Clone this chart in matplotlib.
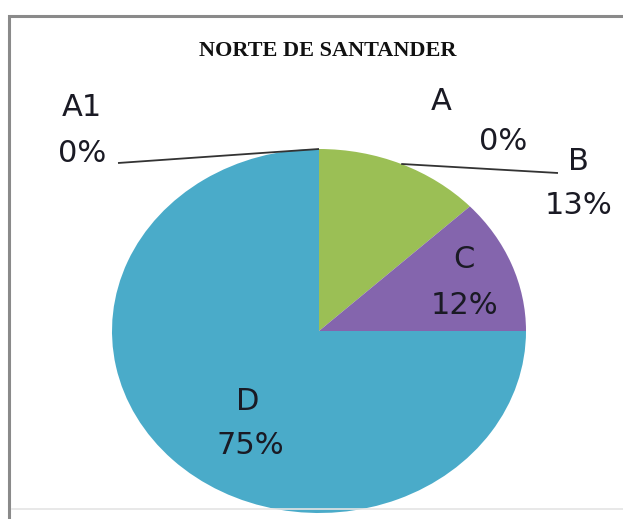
import matplotlib
matplotlib.use("Agg")
import matplotlib.pyplot as plt
import numpy as np
from matplotlib.patches import Rectangle
from matplotlib.lines import Line2D

# ---------- data ----------
categories = ["A1", "A", "B", "C", "D"]
values = [0, 0, 13, 12, 75]
colors = ["#4F81BD", "#C0504D", "#9bbf55", "#8465ad", "#4aabc9"]
title = "NORTE DE SANTANDER"

W, H = 623, 519
CX, CY, RX, RY = 319, 331, 207, 182   # pie centre / radii in pixels (image is stretched)


def px(x, y):
    """pixel (from top-left) -> data coords of the full-figure axes"""
    return (x - CX) / RX, (CY - y) / RY


fig = plt.figure(figsize=(W / 100, H / 100), dpi=100)
ax = fig.add_axes([0, 0, 1, 1])
ax.pie(values, colors=colors, startangle=90, counterclock=False,
       radius=1, wedgeprops=dict(linewidth=0))
ax.set_aspect("auto")
ax.set_xlim(-CX / RX, (W - CX) / RX)
ax.set_ylim(-(H - CY) / RY, CY / RY)
ax.axis("off")

# frame
fig.add_artist(Rectangle((9 / W, -0.1), 1.2, (H - 15.5) / H + 0.1, transform=fig.transFigure,
                         fill=False, edgecolor="#8a8a8a", lw=2.2))
fig.add_artist(Line2D([12 / W, 1], [1 - 509 / H] * 2, transform=fig.transFigure,
                      color="#e4e4e4", lw=1.2))

ax.text(*px(328, 51), title, ha="center", va="center", fontsize=16,
        family="Liberation Serif", weight="bold", color="#111111")

# mid angle of every wedge (degrees, clockwise from top)
cum = np.cumsum([0] + values)
mid = {c: 90 - 3.6 * (cum[i] + values[i] / 2) for i, c in enumerate(categories)}

lab = dict(fontsize=22, color="#1a1a24", ha="center", va="center")
pct = {c: f"{v}%" for c, v in zip(categories, values)}
ax.text(*px(82, 107), "A1", **lab)
ax.text(*px(82, 154), pct["A1"], **lab)
ax.text(*px(441, 101), "A", **lab)
ax.text(*px(503, 142), pct["A"], **lab)
ax.text(*px(578, 161), "B", **lab)
ax.text(*px(579, 205), pct["B"], **lab)
ax.text(*px(464, 260), "C", **lab)
ax.text(*px(465, 305), pct["C"], **lab)
ax.text(*px(248, 401), "D", **lab)
ax.text(*px(250, 446), pct["D"], **lab)

# leader lines from wedge edge to label
for c, end in [("A1", (118, 163)), ("B", (558, 173))]:
    a = np.deg2rad(mid[c])
    ex, ey = px(*end)
    ax.plot([np.cos(a), ex], [np.sin(a), ey], color="#333333", lw=1.3,
            solid_capstyle="butt")

fig.savefig("out.png", dpi=100)
